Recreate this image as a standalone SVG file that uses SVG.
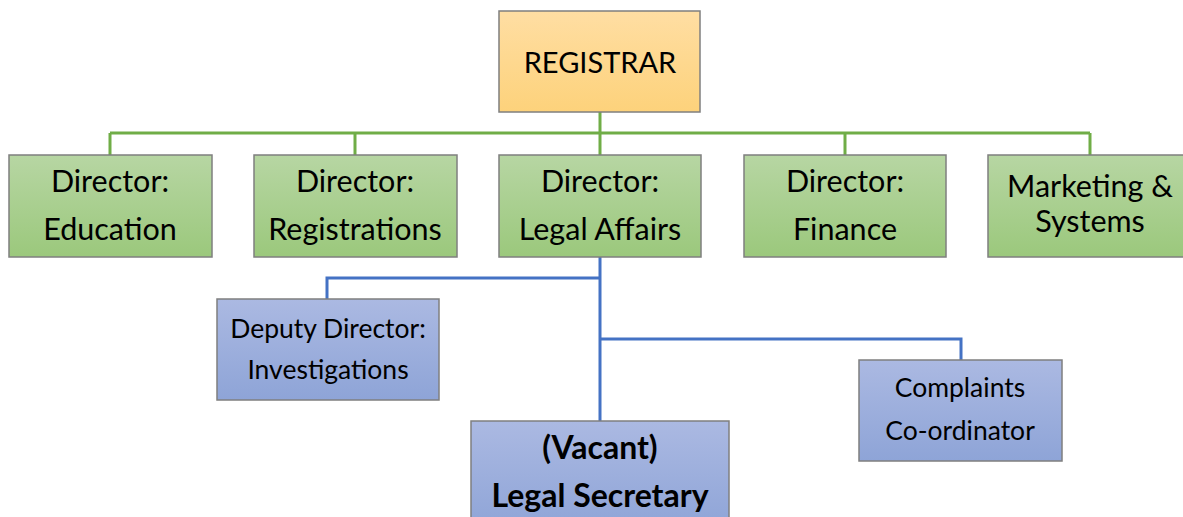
<svg xmlns="http://www.w3.org/2000/svg" width="1183" height="517" viewBox="0 0 1183 517">
  <defs>
    <linearGradient id="gOrange" x1="0" y1="0" x2="0" y2="1">
      <stop offset="0" stop-color="#ffdea3"/>
      <stop offset="1" stop-color="#fdd27b"/>
    </linearGradient>
    <linearGradient id="gGreen" x1="0" y1="0" x2="0" y2="1">
      <stop offset="0" stop-color="#b7d6a3"/>
      <stop offset="1" stop-color="#9bc87c"/>
    </linearGradient>
    <linearGradient id="gBlue" x1="0" y1="0" x2="0" y2="1">
      <stop offset="0" stop-color="#abb9e2"/>
      <stop offset="1" stop-color="#8ea4d7"/>
    </linearGradient>
  </defs>
  <style>
    .box { stroke: #7f7f7f; stroke-width: 1.5; }
    .org { fill: url(#gOrange); }
    .grn { fill: url(#gGreen); }
    .blu { fill: url(#gBlue); }
    text { font-family: "Lato", "Open Sans", "Liberation Sans", sans-serif; fill: #000; text-anchor: middle; }
    .t29 { font-size: 29px; }
    .t30 { font-size: 30.5px; }
    .t26 { font-size: 26.5px; }
    .bold { font-size: 32px; font-weight: bold; }
    .gl { stroke: #70ad47; stroke-width: 3; fill: none; }
    .bl { stroke: #4472c4; stroke-width: 3; fill: none; }
  </style>

  <!-- connectors -->
  <g id="connectors">
    <path class="gl" d="M600 112 V155 M110 133 H1090 M110 133 V155 M355 133 V155 M845 133 V155 M1090 133 V155"/>
    <path class="bl" d="M600 257 V421 M600 278 H327 V299 M600 339 H961 V360"/>
  </g>

  <g id="registrar">
    <rect class="box org" x="499" y="11" width="201" height="101"/>
    <text class="t29" x="600" y="73">REGISTRAR</text>
  </g>

  <g id="dir-education">
    <rect class="box grn" x="9" y="155" width="203" height="102"/>
    <text class="t30" x="110" y="192">Director:</text>
    <text class="t30" x="110" y="240">Education</text>
  </g>

  <g id="dir-registrations">
    <rect class="box grn" x="254" y="155" width="203" height="102"/>
    <text class="t30" x="355" y="192">Director:</text>
    <text class="t30" x="355" y="240">Registrations</text>
  </g>

  <g id="dir-legal">
    <rect class="box grn" x="499" y="155" width="202" height="102"/>
    <text class="t30" x="600" y="192">Director:</text>
    <text class="t30" x="600" y="240">Legal Affairs</text>
  </g>

  <g id="dir-finance">
    <rect class="box grn" x="744" y="155" width="202" height="102"/>
    <text class="t30" x="845" y="192">Director:</text>
    <text class="t30" x="845" y="240">Finance</text>
  </g>

  <g id="marketing">
    <rect class="box grn" x="988" y="155" width="204" height="102"/>
    <text class="t30" x="1090" y="197">Marketing &amp;</text>
    <text class="t30" x="1090" y="232">Systems</text>
  </g>

  <g id="deputy-investigations">
    <rect class="box blu" x="217" y="299" width="222" height="101"/>
    <text class="t26" x="328" y="338">Deputy Director:</text>
    <text class="t26" x="328" y="379">Investigations</text>
  </g>

  <g id="complaints">
    <rect class="box blu" x="859" y="360" width="203" height="101"/>
    <text class="t26" x="960" y="397">Complaints</text>
    <text class="t26" x="960" y="440">Co-ordinator</text>
  </g>

  <g id="legal-secretary">
    <rect class="box blu" x="471" y="421" width="258" height="110"/>
    <text class="bold" x="600" y="459">(Vacant)</text>
    <text class="bold" x="600" y="507">Legal Secretary</text>
  </g>
</svg>
